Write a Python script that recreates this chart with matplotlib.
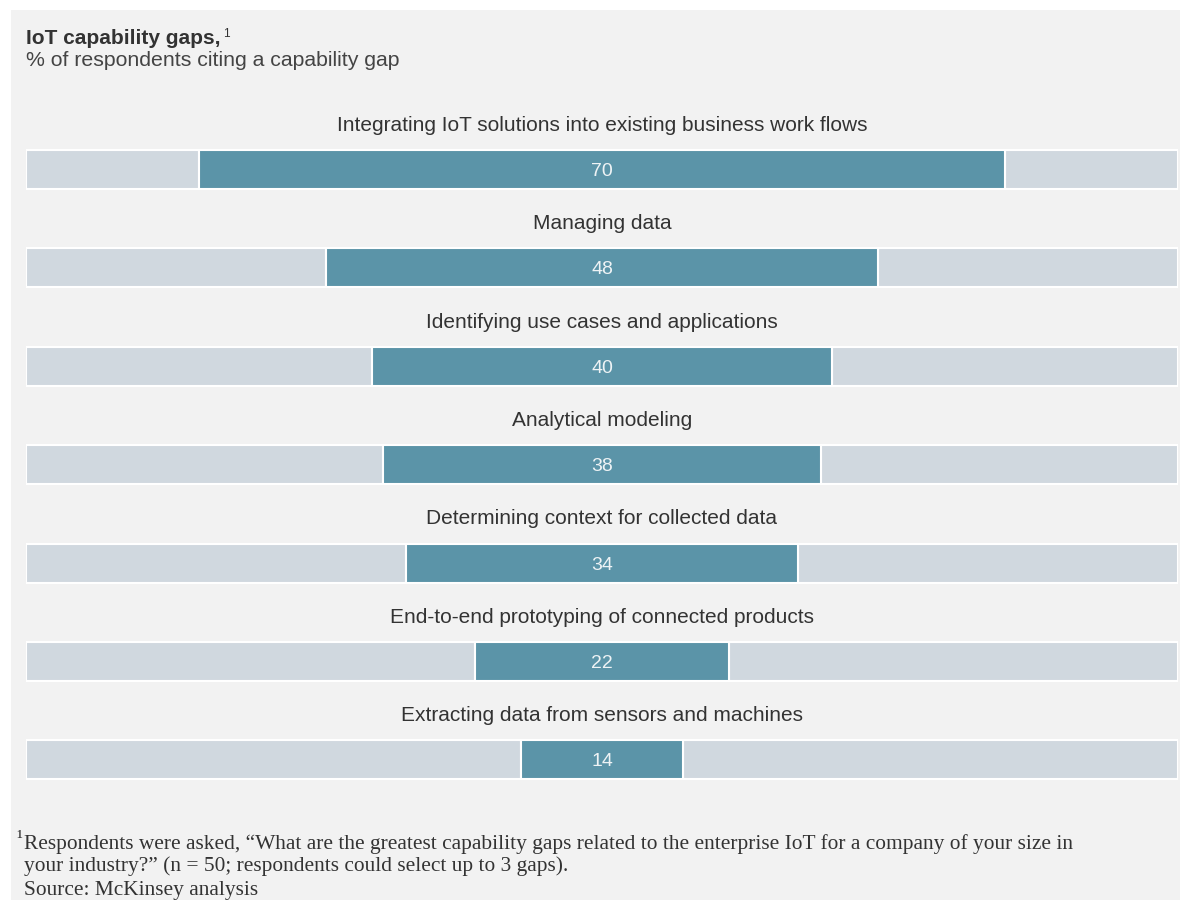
import matplotlib.pyplot as plt
from matplotlib.patches import Rectangle

categories = [
    'Integrating IoT solutions into existing business work flows',
    'Managing data',
    'Identifying use cases and applications',
    'Analytical modeling',
    'Determining context for collected data',
    'End-to-end prototyping of connected products',
    'Extracting data from sensors and machines',
]
values = [70, 48, 40, 38, 34, 22, 14]

W, H = 1180, 900
panel_bg = '#f2f2f2'
track_col = '#d0d8df'
bar_col = '#5b94a8'
text_col = '#333333'

plt.rcParams['font.family'] = ['Liberation Sans', 'DejaVu Sans']

fig = plt.figure(figsize=(W / 100, H / 100), dpi=100)
fig.patch.set_facecolor('white')

# grey panel behind everything
fig.patches.append(Rectangle((11 / W, 0), 1 - 11 / W, 1 - 10 / H,
                             transform=fig.transFigure, facecolor=panel_bg,
                             edgecolor='none', zorder=-5))

# bar area in pixel terms
left_px, right_px = 26, 1178
step = 98.4
top_px = 169.5 - step / 2
bottom_px = top_px + step * len(values)
ax = fig.add_axes([left_px / W, 1 - bottom_px / H,
                   (right_px - left_px) / W, (bottom_px - top_px) / H])
ax.set_zorder(2)
ax.set_xlim(0, 100)
ax.set_ylim(len(values) - 0.5, -0.5)
ax.axis('off')

bh = 39 / step
for i, (cat, v) in enumerate(zip(categories, values)):
    start = 50 - v / 2
    end = 50 + v / 2
    # grey track on both sides, value bar centred on 50
    ax.barh(i, start, left=0, height=bh, color=track_col,
            edgecolor='white', linewidth=1.5)
    ax.barh(i, 100 - end, left=end, height=bh, color=track_col,
            edgecolor='white', linewidth=1.5)
    ax.barh(i, v, left=start, height=bh, color=bar_col,
            edgecolor='white', linewidth=1.5)
    ax.text(50, i, str(v), ha='center', va='center_baseline', color='#eef3f5',
            fontsize=14)
    ax.text(50, i - 0.47, cat, ha='center', va='center_baseline',
            color=text_col, fontsize=15)

# header
title = fig.text(26 / W, 1 - 37 / H, 'IoT capability gaps,', fontsize=15,
                 fontweight='bold', color=text_col, va='center_baseline',
                 ha='left')
fig.add_artist(plt.Annotation('1', xy=(1, 1), xycoords=title,
                              xytext=(2, 1), textcoords='offset points',
                              fontsize=8.5, color=text_col,
                              va='top', ha='left'))
fig.text(26 / W, 1 - 58 / H, '% of respondents citing a capability gap',
         fontsize=15.3, color='#444444', va='center_baseline', ha='left')

# footnotes
serif = ['Liberation Serif', 'DejaVu Serif']
fig.text(16 / W, 1 - 838 / H, '¹', fontsize=14, color=text_col,
         va='center', ha='left', family=serif)
fig.text(24 / W, 1 - 842 / H,
         'Respondents were asked, \u201cWhat are the greatest capability gaps '
         'related to the enterprise IoT for a company of your size in',
         fontsize=15.4, color=text_col, va='center_baseline', ha='left',
         family=serif)
fig.text(24 / W, 1 - 864 / H,
         'your industry?\u201d (n = 50; respondents could select up to 3 gaps).',
         fontsize=15.4, color=text_col, va='center_baseline', ha='left',
         family=serif)
fig.text(24 / W, 1 - 888 / H, 'Source: McKinsey analysis',
         fontsize=15.4, color=text_col, va='center_baseline', ha='left',
         family=serif)

fig.savefig('out.png', dpi=100, facecolor=fig.get_facecolor())
